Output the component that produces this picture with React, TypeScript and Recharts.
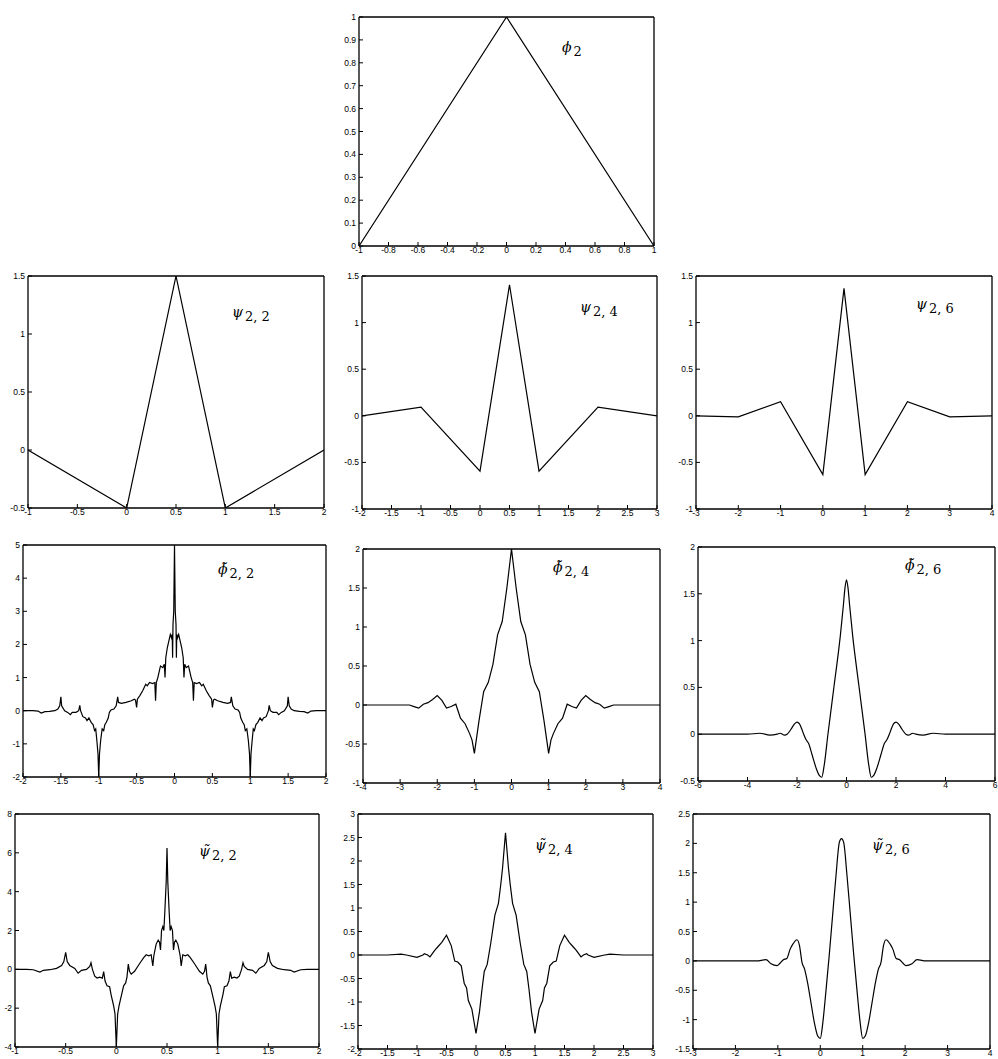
import { LineChart, Line, XAxis, YAxis } from "recharts";

// ---- data (x, y pairs) ----
const phi2: number[][] = [[-1, 0], [0, 1], [1, 0]];

const psi22: number[][] = [[-1, 0], [0, -0.5], [0.5, 1.5], [1, -0.5], [2, 0]];

const psi24: number[][] = [
  [-2, 0], [-1, 0.094], [0, -0.594], [0.5, 1.406], [1, -0.594], [2, 0.094], [3, 0],
];

const psi26: number[][] = [
  [-3, 0], [-2, -0.012], [-1, 0.152], [0, -0.63], [0.5, 1.367], [1, -0.63], [2, 0.152], [3, -0.012], [4, 0],
];

const phiT22: number[][] = [
  [-2, 0], [-1.87, 0], [-1.8, -0.01], [-1.76, -0.07], [-1.71, -0.03], [-1.65, -0.02], [-1.58, 0],
  [-1.54, 0.05], [-1.515, 0.15], [-1.5, 0.42], [-1.49, 0.15], [-1.45, 0], [-1.41, -0.05],
  [-1.375, -0.12], [-1.35, -0.05], [-1.3, -0.05], [-1.265, 0], [-1.25, 0.16], [-1.24, 0],
  [-1.21, -0.18], [-1.175, -0.22], [-1.155, -0.3], [-1.13, -0.22], [-1.1, -0.35], [-1.075, -0.42],
  [-1.055, -0.6], [-1.04, -0.55], [-1.025, -0.9], [-1.01, -1.3], [-1, -2], [-0.99, -1.3],
  [-0.975, -0.9], [-0.955, -0.55], [-0.935, -0.6], [-0.92, -0.42], [-0.9, -0.35], [-0.875, -0.22],
  [-0.86, -0.05], [-0.84, 0.02], [-0.8, 0.05], [-0.77, 0.15], [-0.75, 0.42], [-0.74, 0.25],
  [-0.7, 0.22], [-0.64, 0.25], [-0.57, 0.3], [-0.53, 0.35], [-0.515, 0.32], [-0.5, 0.1],
  [-0.49, 0.35], [-0.46, 0.45], [-0.42, 0.6], [-0.38, 0.8], [-0.36, 0.75], [-0.33, 0.85],
  [-0.29, 0.82], [-0.26, 0.85], [-0.25, 0.3], [-0.24, 0.85], [-0.22, 1.0], [-0.2, 1.2],
  [-0.185, 1.35], [-0.155, 1.3], [-0.135, 1.4], [-0.125, 1.0], [-0.115, 1.6], [-0.095, 1.9],
  [-0.075, 2.1], [-0.055, 2.3], [-0.04, 2.2], [-0.03, 2.3], [-0.025, 1.6], [-0.02, 2.6],
  [-0.01, 3.0], [0, 5],
  [0.01, 3.0], [0.02, 2.6], [0.025, 1.6], [0.03, 2.3], [0.04, 2.2], [0.055, 2.3], [0.075, 2.1],
  [0.095, 1.9], [0.115, 1.6], [0.125, 1.0], [0.135, 1.4], [0.155, 1.3], [0.185, 1.35], [0.2, 1.2],
  [0.22, 1.0], [0.24, 0.85], [0.25, 0.3], [0.26, 0.85], [0.29, 0.82], [0.33, 0.85], [0.36, 0.75],
  [0.38, 0.8], [0.42, 0.6], [0.46, 0.45], [0.49, 0.35], [0.5, 0.1], [0.515, 0.32], [0.53, 0.35],
  [0.57, 0.3], [0.64, 0.25], [0.7, 0.22], [0.74, 0.25], [0.75, 0.42], [0.77, 0.15], [0.8, 0.05],
  [0.84, 0.02], [0.86, -0.05], [0.875, -0.22], [0.9, -0.35], [0.92, -0.42], [0.935, -0.6],
  [0.955, -0.55], [0.975, -0.9], [0.99, -1.3], [1, -2], [1.01, -1.3], [1.025, -0.9], [1.04, -0.55],
  [1.055, -0.6], [1.075, -0.42], [1.1, -0.35], [1.13, -0.22], [1.155, -0.3], [1.175, -0.22],
  [1.21, -0.18], [1.24, 0], [1.25, 0.16], [1.265, 0], [1.3, -0.05], [1.35, -0.05], [1.375, -0.12],
  [1.41, -0.05], [1.45, 0], [1.49, 0.15], [1.5, 0.42], [1.515, 0.15], [1.54, 0.05], [1.58, 0],
  [1.65, -0.02], [1.71, -0.03], [1.76, -0.07], [1.8, -0.01], [1.87, 0], [2, 0],
];

const phiT24: number[][] = [
  [-4, 0], [-3, 0], [-2.75, 0], [-2.625, -0.02], [-2.5, -0.04], [-2.375, 0.01], [-2.25, 0.03],
  [-2.125, 0.07], [-2, 0.12], [-1.875, 0.06], [-1.75, -0.04], [-1.625, -0.02], [-1.5, 0.01],
  [-1.375, -0.17], [-1.25, -0.24], [-1.125, -0.37], [-1.0625, -0.45], [-1, -0.62], [-0.875, -0.2],
  [-0.75, 0.17], [-0.625, 0.29], [-0.5, 0.52], [-0.375, 0.9], [-0.25, 1.07], [-0.125, 1.5],
  [-0.0625, 1.75], [0, 2],
  [0.0625, 1.75], [0.125, 1.5], [0.25, 1.07], [0.375, 0.9], [0.5, 0.52], [0.625, 0.29], [0.75, 0.17],
  [0.875, -0.2], [1, -0.62], [1.0625, -0.45], [1.125, -0.37], [1.25, -0.24], [1.375, -0.17],
  [1.5, 0.01], [1.625, -0.02], [1.75, -0.04], [1.875, 0.06], [2, 0.12], [2.125, 0.07], [2.25, 0.03],
  [2.375, 0.01], [2.5, -0.04], [2.625, -0.02], [2.75, 0], [3, 0], [4, 0],
];

const phiT26: number[][] = [
  [-6, 0], [-4, 0], [-3.5, 0.01], [-3.1, -0.01], [-2.8, 0], [-2.68, 0.01], [-2.5, -0.01], [-2.4, 0],
  [-2.25, 0.05], [-2.1, 0.11], [-2, 0.13], [-1.9, 0.11], [-1.8, 0.05], [-1.73, 0], [-1.63, -0.06],
  [-1.53, -0.1], [-1.39, -0.22], [-1.23, -0.36], [-1.1, -0.44], [-1, -0.46], [-0.9, -0.33],
  [-0.75, 0], [-0.5, 0.52], [-0.25, 1.05], [-0.125, 1.38], [-0.0625, 1.56], [0, 1.65],
  [0.0625, 1.56], [0.125, 1.38], [0.25, 1.05], [0.5, 0.52], [0.75, 0], [0.9, -0.33], [1, -0.46],
  [1.1, -0.44], [1.23, -0.36], [1.39, -0.22], [1.53, -0.1], [1.63, -0.06], [1.73, 0], [1.8, 0.05],
  [1.9, 0.11], [2, 0.13], [2.1, 0.11], [2.25, 0.05], [2.4, 0], [2.5, -0.01], [2.68, 0.01], [2.8, 0],
  [3.1, -0.01], [3.5, 0.01], [4, 0], [6, 0],
];

const psiT22: number[][] = [
  [-1, 0], [-0.885, 0], [-0.82, -0.02], [-0.754, -0.14], [-0.72, -0.05], [-0.656, -0.02],
  [-0.59, 0.05], [-0.54, 0.2], [-0.518, 0.4], [-0.5, 0.88], [-0.485, 0.4], [-0.46, 0.2],
  [-0.41, 0.05], [-0.377, -0.2], [-0.344, -0.05], [-0.295, 0], [-0.262, 0.15], [-0.25, 0.34],
  [-0.236, 0], [-0.213, -0.35], [-0.19, -0.45], [-0.164, -0.4], [-0.138, -0.45], [-0.125, -0.12],
  [-0.111, -0.6], [-0.092, -0.85], [-0.066, -0.9], [-0.052, -1.3], [-0.039, -1.6], [-0.026, -1.9],
  [-0.013, -2.3], [0, -4], [0.013, -2.3], [0.026, -1.9], [0.039, -1.6], [0.052, -1.3],
  [0.072, -0.85], [0.092, -0.7], [0.105, -0.4], [0.118, 0.27], [0.13, -0.1], [0.147, -0.25],
  [0.18, -0.1], [0.23, 0.3], [0.27, 0.6], [0.295, 0.75], [0.32, 0.7], [0.344, 0.75], [0.36, 0.17],
  [0.37, 0.7], [0.393, 1.3], [0.413, 1.5], [0.426, 1.4], [0.436, 1.0], [0.446, 2.0], [0.459, 2.2],
  [0.469, 2.0], [0.479, 3.0], [0.492, 4.5], [0.5, 6.25],
  [0.508, 4.5], [0.521, 3.0], [0.531, 2.0], [0.541, 2.2], [0.554, 2.0], [0.564, 1.0], [0.574, 1.4],
  [0.587, 1.5], [0.607, 1.3], [0.63, 0.7], [0.64, 0.17], [0.656, 0.75], [0.68, 0.7], [0.705, 0.75],
  [0.73, 0.6], [0.77, 0.3], [0.82, -0.1], [0.853, -0.25], [0.87, -0.1], [0.882, 0.27], [0.895, -0.4],
  [0.908, -0.7], [0.928, -0.85], [0.948, -1.3], [0.961, -1.6], [0.974, -1.9], [0.987, -2.3], [1, -4],
  [1.013, -2.3], [1.026, -1.9], [1.039, -1.6], [1.052, -1.3], [1.066, -0.9], [1.092, -0.85],
  [1.111, -0.6], [1.125, -0.12], [1.138, -0.45], [1.164, -0.4], [1.19, -0.45], [1.213, -0.35],
  [1.236, 0], [1.25, 0.34], [1.262, 0.15], [1.295, 0], [1.344, -0.05], [1.377, -0.2], [1.41, 0.05],
  [1.46, 0.2], [1.485, 0.4], [1.5, 0.88], [1.518, 0.4], [1.54, 0.2], [1.59, 0.05], [1.656, -0.02],
  [1.72, -0.05], [1.754, -0.14], [1.82, -0.02], [1.885, 0], [2, 0],
];

const psiT24: number[][] = [
  [-2, 0], [-1.5, 0], [-1.27, 0.02], [-1.18, 0], [-1, -0.05], [-0.9, 0], [-0.875, 0.03], [-0.82, 0],
  [-0.78, -0.04], [-0.7, 0.1], [-0.65, 0.17], [-0.58, 0.27], [-0.5, 0.42], [-0.42, 0.2],
  [-0.36, -0.13], [-0.31, -0.15], [-0.25, -0.23], [-0.2, -0.6], [-0.16, -0.7], [-0.13, -0.97],
  [-0.07, -1.15], [0, -1.67], [0.06, -1.2], [0.1, -0.75], [0.14, -0.35], [0.19, -0.2], [0.25, 0.25],
  [0.32, 0.85], [0.38, 1.1], [0.42, 1.5], [0.45, 1.85], [0.5, 2.6],
  [0.55, 1.85], [0.58, 1.5], [0.62, 1.1], [0.68, 0.85], [0.75, 0.25], [0.81, -0.2], [0.86, -0.35],
  [0.9, -0.75], [0.94, -1.2], [1, -1.67], [1.07, -1.15], [1.13, -0.97], [1.16, -0.7], [1.2, -0.6],
  [1.25, -0.23], [1.31, -0.15], [1.36, -0.13], [1.42, 0.2], [1.5, 0.42], [1.58, 0.27], [1.65, 0.17],
  [1.7, 0.1], [1.78, -0.04], [1.82, 0], [1.875, 0.03], [1.9, 0], [2, -0.05], [2.18, 0], [2.27, 0.02],
  [2.5, 0], [3, 0],
];

const psiT26: number[][] = [
  [-3, 0], [-1.5, 0], [-1.28, 0.02], [-1.16, -0.05], [-1.02, -0.08], [-0.95, -0.04], [-0.87, 0.02],
  [-0.79, 0.04], [-0.71, 0.2], [-0.65, 0.28], [-0.55, 0.36], [-0.49, 0.26], [-0.43, -0.03],
  [-0.37, -0.14], [-0.3, -0.37], [-0.22, -0.71], [-0.14, -1.05], [-0.06, -1.28], [0, -1.32],
  [0.06, -1.05], [0.13, -0.54], [0.21, 0.09], [0.29, 0.77], [0.37, 1.45], [0.45, 2.02], [0.5, 2.08],
  [0.55, 2.02], [0.63, 1.45], [0.71, 0.77], [0.79, 0.09], [0.87, -0.54], [0.94, -1.05], [1, -1.32],
  [1.06, -1.28], [1.14, -1.05], [1.22, -0.71], [1.3, -0.37], [1.37, -0.14], [1.43, -0.03],
  [1.49, 0.26], [1.55, 0.36], [1.65, 0.28], [1.71, 0.2], [1.79, 0.04], [1.87, 0.02], [1.95, -0.04],
  [2.02, -0.08], [2.16, -0.05], [2.28, 0.02], [2.5, 0], [4, 0],
];

// tick labels
const ticksPhi2X = [-1, -0.8, -0.6, -0.4, -0.2, 0, 0.2, 0.4, 0.6, 0.8, 1];
const ticksPhi2Y = [0, 0.1, 0.2, 0.3, 0.4, 0.5, 0.6, 0.7, 0.8, 0.9, 1];
const ticksHalfM1to2 = [-1, -0.5, 0, 0.5, 1, 1.5, 2];
const ticksHalfM2to3 = [-2, -1.5, -1, -0.5, 0, 0.5, 1, 1.5, 2, 2.5, 3];
const ticksM3to4 = [-3, -2, -1, 0, 1, 2, 3, 4];
const ticksM2to2 = [-2, -1.5, -1, -0.5, 0, 0.5, 1, 1.5, 2];
const ticksM4to4 = [-4, -3, -2, -1, 0, 1, 2, 3, 4];
const ticksM6to6 = [-6, -4, -2, 0, 2, 4, 6];
const ticksPsi22Y = [-0.5, 0, 0.5, 1, 1.5];
const ticksPsiY = [-1, -0.5, 0, 0.5, 1, 1.5];
const ticksPhiT22Y = [-2, -1, 0, 1, 2, 3, 4, 5];
const ticksPhiT24Y = [-1, -0.5, 0, 0.5, 1, 1.5, 2];
const ticksPhiT26Y = [-0.5, 0, 0.5, 1, 1.5, 2];
const ticksPsiT22Y = [-4, -2, 0, 2, 4, 6, 8];
const ticksPsiT24Y = [-2, -1.5, -1, -0.5, 0, 0.5, 1, 1.5, 2, 2.5, 3];
const ticksPsiT26Y = [-1.5, -1, -0.5, 0, 0.5, 1, 1.5, 2, 2.5];

type Box = { left: number; top: number; right: number; bottom: number };

const tickText = { fontSize: 8.5, fill: "#000", fontFamily: "'Liberation Sans', Arial, sans-serif" };
const axisLine = { stroke: "#000", strokeWidth: 1.3 };
const tickLine = { stroke: "#000", strokeWidth: 1 };

function Panel(props: {
  box: Box;
  points: number[][];
  xTicks: number[];
  yTicks: number[];
  smooth?: boolean;
}) {
  const { box, points, xTicks, yTicks, smooth } = props;
  const padL = 34, padT = 6, padR = 6, padB = 16;
  const w = box.right - box.left + padL + padR;
  const h = box.bottom - box.top + padT + padB;
  const data = points.map(([x, y]) => ({ x, y }));
  const xDom = [xTicks[0], xTicks[xTicks.length - 1]];
  const yDom = [yTicks[0], yTicks[yTicks.length - 1]];
  return (
    <div style={{ position: "absolute", left: box.left - padL, top: box.top - padT, width: w, height: h }}>
      <LineChart width={w} height={h} data={data} margin={{ top: padT, right: padR, left: 0, bottom: 0 }}>
        <XAxis xAxisId="b" type="number" dataKey="x" domain={xDom} ticks={xTicks} interval={0}
          allowDataOverflow height={padB} tickSize={-4} tickMargin={5}
          tick={tickText} axisLine={axisLine} tickLine={tickLine} />
        <XAxis xAxisId="t" orientation="top" type="number" dataKey="x" domain={xDom} ticks={xTicks}
          interval={0} allowDataOverflow height={1} tickSize={-4} tick={false}
          axisLine={axisLine} tickLine={tickLine} />
        <YAxis yAxisId="l" type="number" dataKey="y" domain={yDom} ticks={yTicks} interval={0}
          allowDataOverflow width={padL} tickSize={-4} tickMargin={7}
          tick={tickText} axisLine={axisLine} tickLine={tickLine} />
        <YAxis yAxisId="r" orientation="right" type="number" dataKey="y" domain={yDom} ticks={yTicks}
          interval={0} allowDataOverflow width={1} tickSize={-4} tick={false}
          axisLine={axisLine} tickLine={tickLine} />
        <Line xAxisId="t" yAxisId="r" dataKey="y" type="linear" dot={false}
          stroke="none" isAnimationActive={false} />
        <Line xAxisId="b" yAxisId="l" dataKey="y" type={smooth ? "monotone" : "linear"} dot={false}
          stroke="#000" strokeWidth={1.2} isAnimationActive={false} />
      </LineChart>
    </div>
  );
}

function Title(props: { left: number; top: number; sym: string; sub: string }) {
  return (
    <div style={{
      position: "absolute", left: props.left, top: props.top, whiteSpace: "nowrap",
      fontFamily: "'DejaVu Serif', 'Liberation Serif', serif", fontSize: 13, lineHeight: "15px", color: "#000",
    }}>
      <span style={{ fontStyle: "italic", fontSize: 14 }}>{props.sym}</span>
      <span style={{ position: "relative", top: 4, marginLeft: 2 }}>{props.sub}</span>
    </div>
  );
}

export default function App() {
  return (
    <div style={{ position: "absolute", left: 0, top: 0, width: 998, height: 1059, background: "#fff" }}>
      <Panel box={{ left: 359, top: 16, right: 655, bottom: 246 }} points={phi2} xTicks={ticksPhi2X} yTicks={ticksPhi2Y} />

      <Panel box={{ left: 28, top: 275, right: 325, bottom: 508 }} points={psi22} xTicks={ticksHalfM1to2} yTicks={ticksPsi22Y} />
      <Panel box={{ left: 362, top: 275, right: 658, bottom: 509 }} points={psi24} xTicks={ticksHalfM2to3} yTicks={ticksPsiY} />
      <Panel box={{ left: 696, top: 275, right: 993, bottom: 509 }} points={psi26} xTicks={ticksM3to4} yTicks={ticksPsiY} />

      <Panel box={{ left: 23, top: 544, right: 327, bottom: 777 }} points={phiT22} xTicks={ticksM2to2} yTicks={ticksPhiT22Y} />
      <Panel box={{ left: 363, top: 548, right: 661, bottom: 783 }} points={phiT24} xTicks={ticksM4to4} yTicks={ticksPhiT24Y} />
      <Panel box={{ left: 698, top: 546, right: 996, bottom: 781 }} points={phiT26} xTicks={ticksM6to6} yTicks={ticksPhiT26Y} smooth />

      <Panel box={{ left: 15, top: 813, right: 320, bottom: 1047 }} points={psiT22} xTicks={ticksHalfM1to2} yTicks={ticksPsiT22Y} />
      <Panel box={{ left: 358, top: 813, right: 654, bottom: 1049 }} points={psiT24} xTicks={ticksHalfM2to3} yTicks={ticksPsiT24Y} />
      <Panel box={{ left: 693, top: 813, right: 991, bottom: 1049 }} points={psiT26} xTicks={ticksM3to4} yTicks={ticksPsiT26Y} smooth />

      <Title left={562} top={40} sym={"\u03d5"} sub="2" />
      <Title left={232} top={305} sym={"\u03c8"} sub="2, 2" />
      <Title left={580} top={300} sym={"\u03c8"} sub="2, 4" />
      <Title left={916} top={297} sym={"\u03c8"} sub="2, 6" />
      <Title left={218} top={562} sym={"\u03d5\u0303"} sub="2, 2" />
      <Title left={553} top={560} sym={"\u03d5\u0303"} sub="2, 4" />
      <Title left={905} top={558} sym={"\u03d5\u0303"} sub="2, 6" />
      <Title left={199} top={844} sym={"\u03c8\u0303"} sub="2, 2" />
      <Title left={535} top={838} sym={"\u03c8\u0303"} sub="2, 4" />
      <Title left={872} top={838} sym={"\u03c8\u0303"} sub="2, 6" />
    </div>
  );
}
